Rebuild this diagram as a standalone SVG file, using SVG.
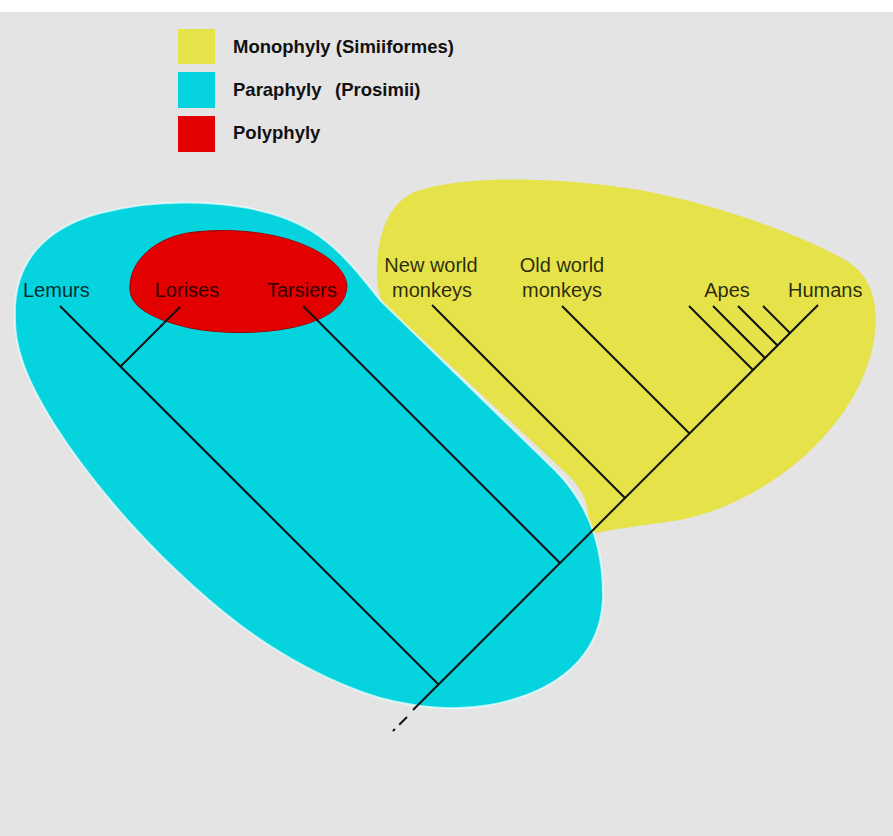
<svg xmlns="http://www.w3.org/2000/svg" width="893" height="836" viewBox="0 0 893 836">
  <style>
    .legend-text { font-family: "Liberation Sans", Arial, sans-serif; font-size: 18.5px; font-weight: bold; fill: #111; }
    .label { font-family: "Liberation Sans", Arial, sans-serif; font-size: 20px; fill: #000; fill-opacity: 0.82; }
    .mid { text-anchor: middle; }
    .branch { stroke: #111; stroke-width: 2; fill: none; stroke-linecap: butt; }
    .mono { fill: #e5e24a; }
    .para { fill: #05d3de; }
    .poly { fill: #e30000; }
  </style>

  <!-- backdrop -->
  <rect x="0" y="0" width="893" height="836" fill="#e4e4e4"/>
  <rect x="0" y="0" width="893" height="12" fill="#ffffff"/>

  <!-- legend -->
  <g id="legend">
    <rect class="mono" x="178" y="29" width="37" height="35"/>
    <rect class="para" x="178" y="72" width="37" height="36"/>
    <rect class="poly" x="178" y="116" width="37" height="36"/>
    <text class="legend-text" x="233" y="53">Monophyly (Simiiformes)</text>
    <text class="legend-text" x="233" y="96">Paraphyly</text>
    <text class="legend-text" x="335" y="96">(Prosimii)</text>
    <text class="legend-text" x="233" y="139">Polyphyly</text>
  </g>

  <!-- grouping regions -->
  <g id="regions">
    <path id="simiiformes" class="mono" d="M 585,537 C 600,530 640,526 680,520 C 730,510 770,485 800,460 C 840,425 866,385 874,340 C 880,300 870,278 850,263 C 810,238 720,205 640,190 C 560,177 470,175 420,190 C 390,200 378,230 377,270 C 377,290 380,300 385,305 L 565,472 C 578,484 587,497 588,515 C 588,528 587,534 585,537 Z"/>
    <path id="prosimii" class="para" stroke="#f2ffff" stroke-opacity="0.7" stroke-width="2" d="M 15,320 C 12,262 45,228 100,213 C 170,195 260,200 310,230 C 340,248 360,275 380,300 L 555,470 C 590,505 604,550 603,600 C 600,655 560,692 490,705 C 450,712 410,706 380,698 C 330,683 280,655 240,625 C 200,595 150,548 110,500 C 70,452 35,400 22,360 C 17,345 15,332 15,320 Z"/>
    <path id="polyphyly" class="poly" stroke="#a30000" stroke-width="1" d="M 130,290 C 128,262 155,236 195,232 C 235,228 280,232 315,250 C 340,263 350,280 346,292 C 342,310 320,322 290,328 C 260,334 220,334 190,328 C 155,320 131,308 130,290 Z"/>
  </g>

  <!-- tree connectors -->
  <g id="connectors">
    <line class="branch" x1="413" y1="710" x2="818" y2="305"/>
    <line class="branch" x1="407" y1="717" x2="391" y2="733" stroke-dasharray="11 6 3 10"/>
    <line class="branch" x1="60" y1="306" x2="438.5" y2="684.5"/>
    <line class="branch" x1="180" y1="307" x2="120.5" y2="366.5"/>
    <line class="branch" x1="303" y1="306" x2="560" y2="563"/>
    <line class="branch" x1="432" y1="305" x2="625" y2="498"/>
    <line class="branch" x1="562" y1="306" x2="689.5" y2="433.5"/>
    <line class="branch" x1="689" y1="306" x2="753" y2="370"/>
    <line class="branch" x1="713" y1="306" x2="765" y2="358"/>
    <line class="branch" x1="738" y1="306" x2="777.5" y2="345.5"/>
    <line class="branch" x1="763" y1="306" x2="790" y2="333"/>
  </g>

  <!-- taxa -->
  <g id="lemurs"><text class="label" x="23" y="297">Lemurs</text></g>
  <g id="lorises"><text class="label mid" x="187" y="297">Lorises</text></g>
  <g id="tarsiers"><text class="label mid" x="302" y="297">Tarsiers</text></g>
  <g id="new-world-monkeys">
    <text class="label mid" x="431" y="272">New world</text>
    <text class="label mid" x="432" y="297">monkeys</text>
  </g>
  <g id="old-world-monkeys">
    <text class="label mid" x="562" y="272">Old world</text>
    <text class="label mid" x="562" y="297">monkeys</text>
  </g>
  <g id="apes"><text class="label mid" x="727" y="297">Apes</text></g>
  <g id="humans"><text class="label" x="788" y="297">Humans</text></g>
</svg>
